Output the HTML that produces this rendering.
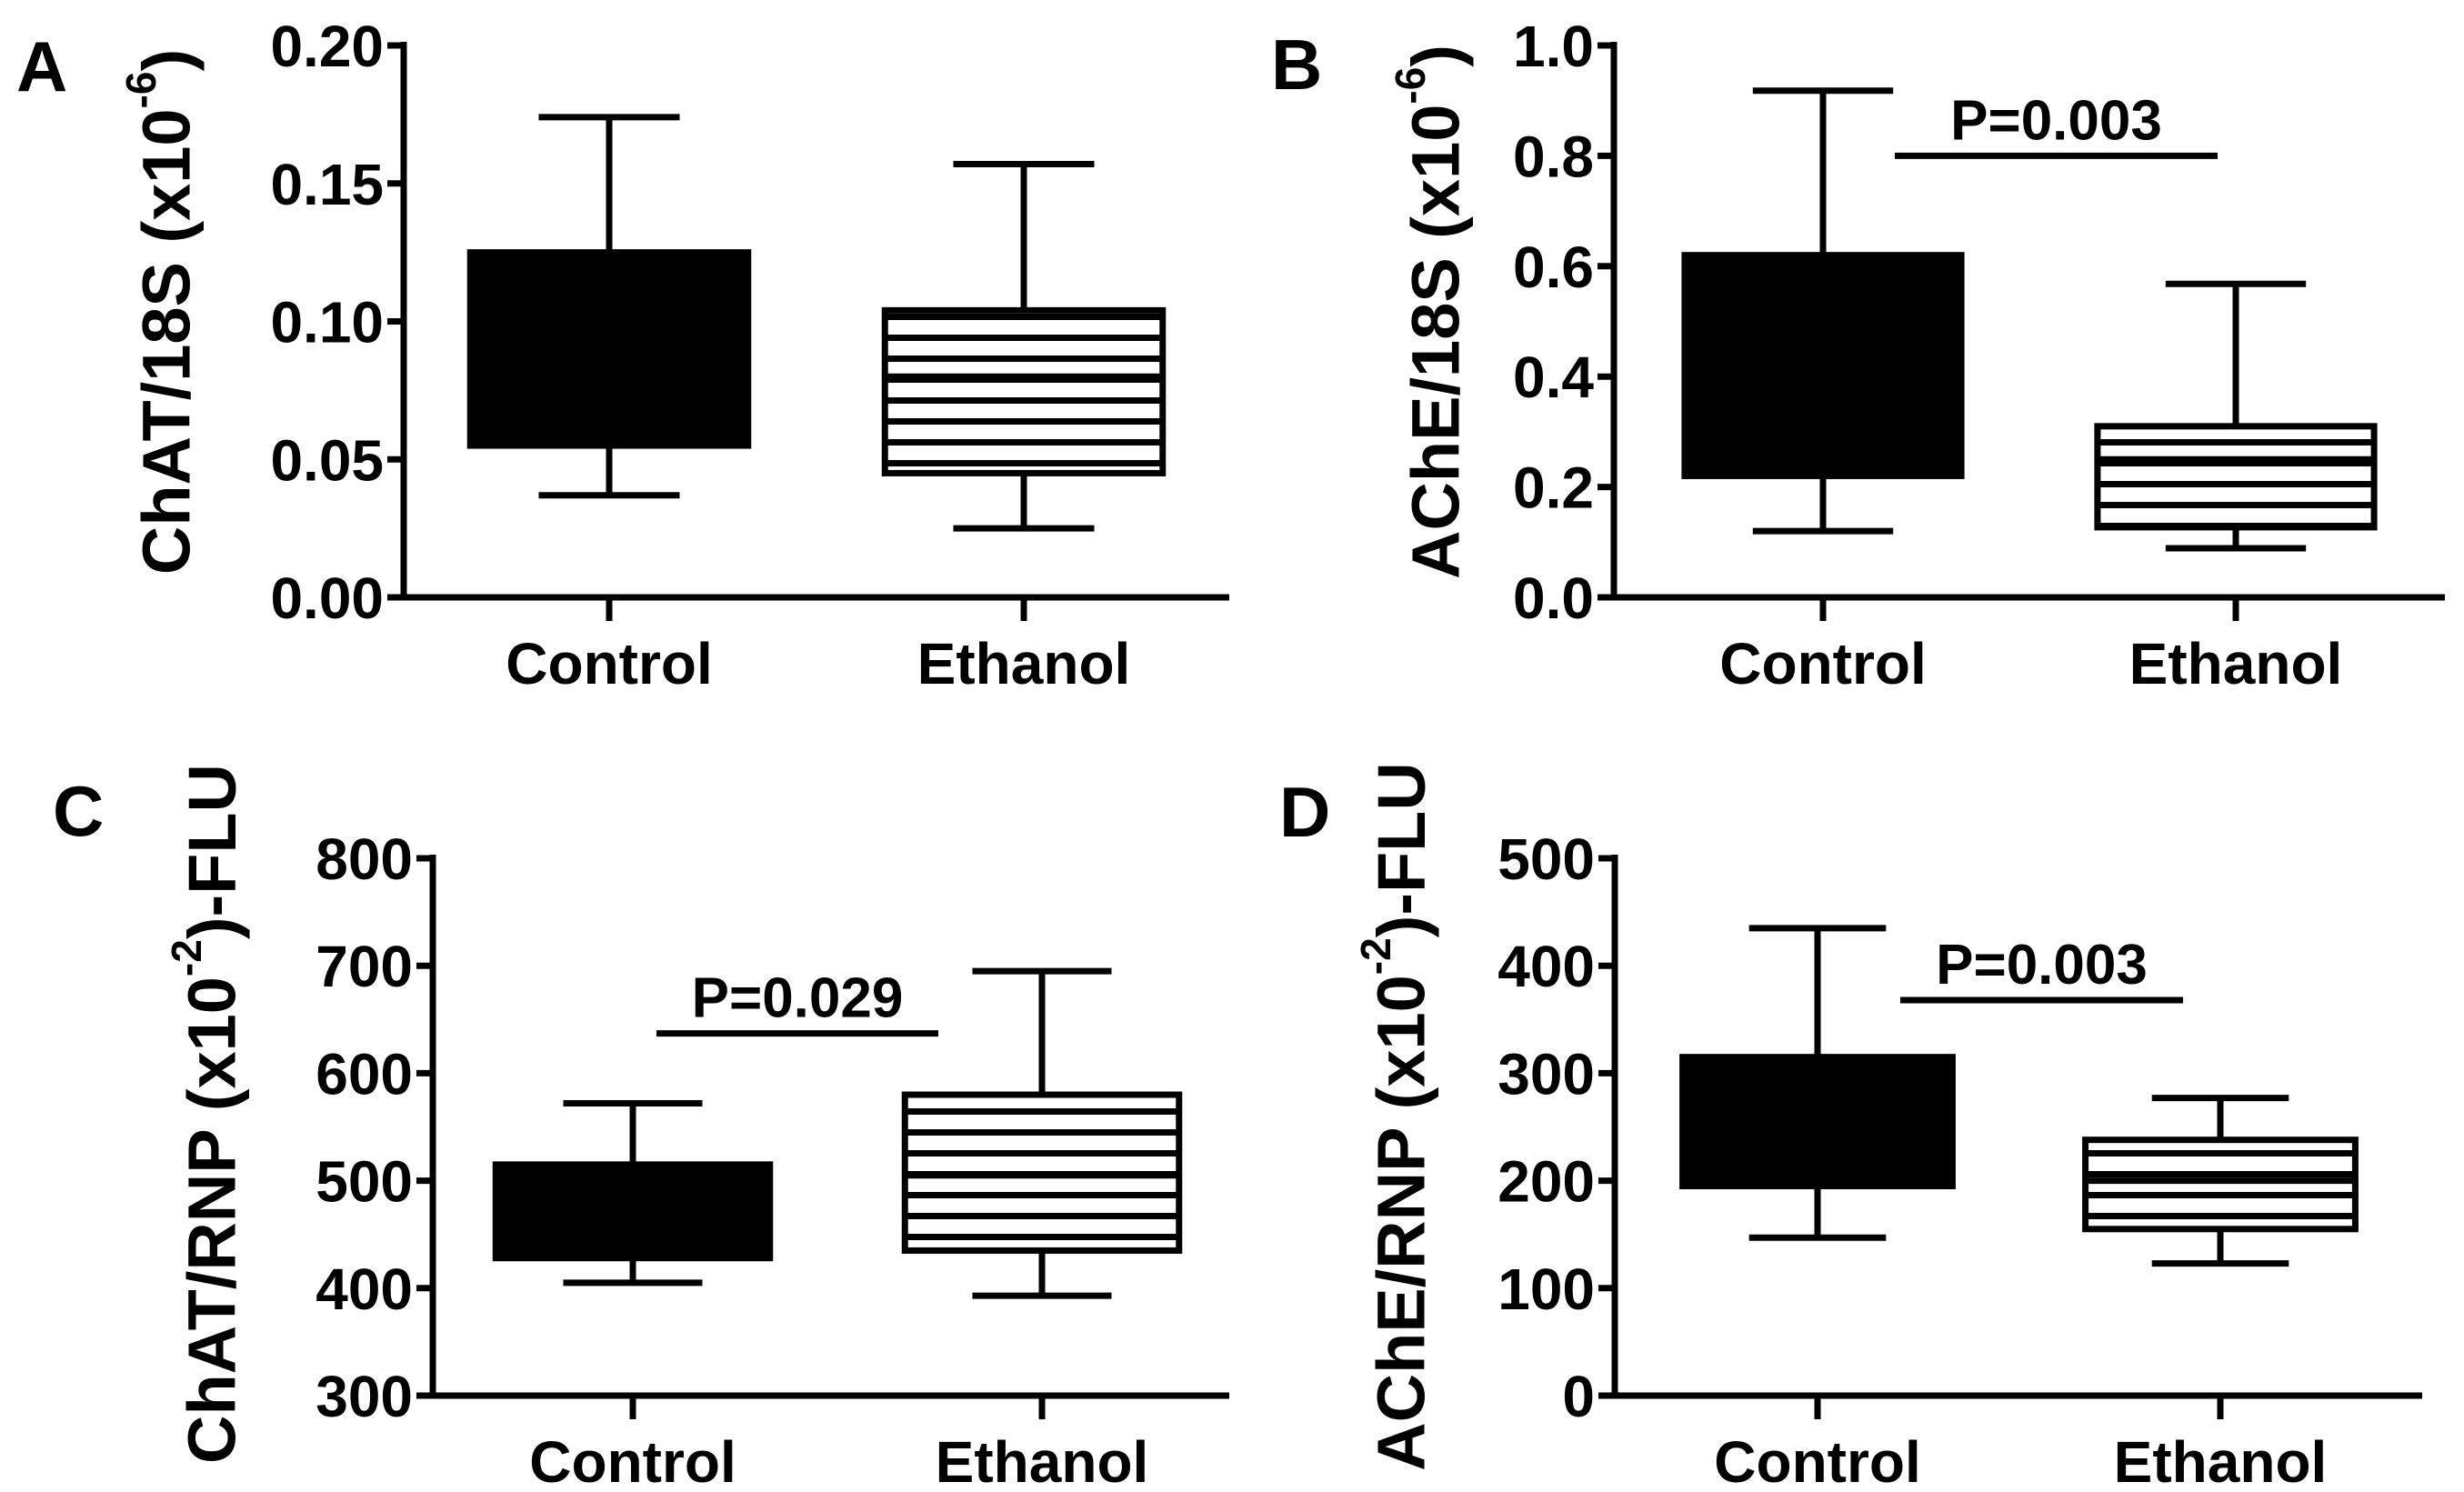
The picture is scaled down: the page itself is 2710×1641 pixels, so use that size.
<!DOCTYPE html>
<html><head><meta charset="utf-8"><style>html,body{margin:0;padding:0;background:#fff}svg{display:block}</style></head>
<body>
<svg id="fig" width="2710" height="1641" viewBox="0 0 2710 1641" xmlns="http://www.w3.org/2000/svg" font-family="Liberation Sans, sans-serif" font-weight="bold">
<defs>
<pattern id="hatch" patternUnits="userSpaceOnUse" width="40" height="23"><rect width="40" height="23" fill="#fff"/><rect y="0" width="40" height="7" fill="#000"/></pattern>
</defs>
</svg>
<script>
const categories = ["Control", "Ethanol"];
// [whiskerLow, q1, median, q3, whiskerHigh]
const panelA = [[0.037,0.055,0.09,0.125,0.174],[0.025,0.045,0.08,0.104,0.157]];
const panelB = [[0.12,0.22,0.40,0.62,0.918],[0.089,0.127,0.25,0.31,0.568]];
const panelC = [[405,428,470,515,572],[393,435,505,580,695]];
const panelD = [[147,195,250,315,435],[123,155,200,238,277]];
const ticksA = ["0.00","0.05","0.10","0.15","0.20"];
const ticksB = ["0.0","0.2","0.4","0.6","0.8","1.0"];
const ticksC = ["300","400","500","600","700","800"];
const ticksD = ["0","100","200","300","400","500"];
const pB = {text:"P=0.003", y:0.80};
const pC = {text:"P=0.029", y:637};
const pD = {text:"P=0.003", y:368};

const NS="http://www.w3.org/2000/svg";
const svg=document.getElementById('fig');
function mk(tag,attrs,parent){const e=document.createElementNS(NS,tag);for(const k in attrs)e.setAttribute(k,attrs[k]);(parent||svg).appendChild(e);return e;}

const layouts=[
 {id:'a',letter:'A',lx:18,ly:100,ax:444,top:50,bot:657,right:1352,c0:670,c1:1126,tmin:0,tmax:0.2,ticks:ticksA,data:panelA,title:'ChAT/18S (x10',sup:'-6',tail:')',tx:183,ty:343,p:null},
 {id:'b',letter:'B',lx:1398,ly:98,ax:1775,top:50,bot:657,right:2689,c0:2005,c1:2459,tmin:0,tmax:1.0,ticks:ticksB,data:panelB,title:'AChE/18S (x10',sup:'-6',tail:')',tx:1579,ty:343,p:pB,px1:2084,px2:2439},
 {id:'c',letter:'C',lx:58,ly:919,ax:476,top:944,bot:1535,right:1352,c0:696,c1:1146,tmin:300,tmax:800,ticks:ticksC,data:panelC,title:'ChAT/RNP (x10',sup:'-2',tail:')-FLU',tx:233,ty:1225,p:pC,px1:722,px2:1032},
 {id:'d',letter:'D',lx:1407,ly:920,ax:1776,top:944,bot:1535,right:2664,c0:1999,c1:2442,tmin:0,tmax:500,ticks:ticksD,data:panelD,title:'AChE/RNP (x10',sup:'-2',tail:')-FLU',tx:1541,ty:1228,p:pD,px1:2090,px2:2401}
];

layouts.forEach(L=>{
 const g=mk('g',{});
 
 
 const y=v=>L.bot-(v-L.tmin)/(L.tmax-L.tmin)*(L.bot-L.top);
 const sp=L.c1-L.c0, bw=sp*0.67, cw=sp*0.34;
 const let_=mk('text',{x:L.lx,y:L.ly,'font-size':78},g);let_.textContent=L.letter;
 
 
 const t=mk('text',{transform:`translate(${L.tx},${L.ty}) rotate(-90)`,'text-anchor':'middle','dominant-baseline':'central','font-size':74},g);
 
 
 t.appendChild(document.createTextNode(L.title));
 const s=mk('tspan',{dy:-28,'font-size':46},t);s.textContent=L.sup;
 const s2=mk('tspan',{dy:28},t);s2.textContent=L.tail;
 const ya=mk('line',{x1:L.ax,y1:L.top-4,x2:L.ax,y2:L.bot+3,stroke:'#000','stroke-width':7},g);
 
 
 const xa=mk('line',{x1:L.ax-3,y1:L.bot,x2:L.right,y2:L.bot,stroke:'#000','stroke-width':7},g);
 
 
 L.ticks.forEach(tk=>{
  const v=parseFloat(tk), yy=y(v);
  const tl=mk('line',{x1:L.ax-18,y1:yy,x2:L.ax,y2:yy,stroke:'#000','stroke-width':7},g);
  
  
  const tt=mk('text',{x:L.ax-22,y:yy+23,'text-anchor':'end','font-size':64},g);tt.textContent=tk;
  
  
 });
 categories.forEach((c,i)=>{
  const cx=i?L.c1:L.c0, d=L.data[i];
  const xt=mk('line',{x1:cx,y1:L.bot,x2:cx,y2:L.bot+26,stroke:'#000','stroke-width':7},g);
  
  
  const xl=mk('text',{x:cx,y:L.bot+95,'text-anchor':'middle','font-size':64},g);xl.textContent=c;
  
  
  const bg=mk('g',{},g);
  
  
  mk('line',{x1:cx,y1:y(d[0]),x2:cx,y2:y(d[4]),stroke:'#000','stroke-width':7},bg);
  mk('line',{x1:cx-cw/2,y1:y(d[0]),x2:cx+cw/2,y2:y(d[0]),stroke:'#000','stroke-width':7},bg);
  mk('line',{x1:cx-cw/2,y1:y(d[4]),x2:cx+cw/2,y2:y(d[4]),stroke:'#000','stroke-width':7},bg);
  mk('rect',{x:cx-bw/2,y:y(d[3]),width:bw,height:y(d[1])-y(d[3]),fill:i?'url(#hatch)':'#000',stroke:'#000','stroke-width':7},bg);
  mk('line',{x1:cx-bw/2,y1:y(d[2]),x2:cx+bw/2,y2:y(d[2]),stroke:'#000','stroke-width':7},bg);
 });
 if(L.p){
  const x1=L.px1, x2=L.px2, yy=y(L.p.y);
  const pl=mk('line',{x1:x1,y1:yy,x2:x2,y2:yy,stroke:'#000','stroke-width':7},g);
  
  
  const pt=mk('text',{x:(x1+x2)/2,y:yy-18,'text-anchor':'middle','font-size':62},g);pt.textContent=L.p.text;
  
  
 }
});
</script>
</body></html>
